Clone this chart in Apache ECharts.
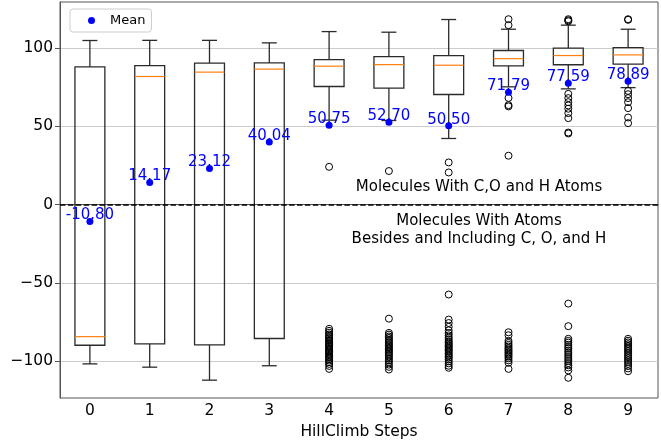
<!DOCTYPE html>
<html>
<head>
<meta charset="utf-8">
<title>Modified RON vs HillClimb Steps</title>
<script src="https://cdn.jsdelivr.net/npm/echarts@6/dist/echarts.min.js"></script>
<style>
  html, body { margin: 0; padding: 0; background: #fff; }
  #chart { width: 661px; height: 440px; }
</style>
</head>
<body>
<div id="chart"></div>
<script>
  // values
  var steps = ['0', '1', '2', '3', '4', '5', '6', '7', '8', '9'];
  var whiskerLow = [-101.7, -103.8, -112.1, -102.9, 54.0, 53.8, 42.3, 75.3, 74.0, 74.8];
  var q1 = [-89.8, -88.9, -89.5, -85.5, 75.5, 74.5, 70.4, 88.7, 89.4, 89.8];
  var median = [-84.3, 81.9, 84.7, 86.6, 88.5, 89.5, 89.1, 93.3, 95.3, 95.7];
  var q3 = [88.1, 88.9, 90.4, 90.6, 92.7, 94.6, 95.3, 98.5, 100.0, 100.4];
  var whiskerHigh = [104.9, 105.0, 105.0, 103.4, 110.6, 110.2, 118.3, 112.1, 114.7, 112.1];
  var means = [-10.80, 14.17, 23.12, 40.04, 50.75, 52.70, 50.50, 71.79, 77.59, 78.89];
  var outliers = [
    [], [], [], [],
    [24.2, -79.3, -80.6, -81.8, -82.9, -83.7, -84.6, -85.5, -86.4, -87.0, -87.9, -88.6, -89.4, -90.1, -90.8,
     -91.6, -92.3, -93.0, -93.8, -94.5, -95.3, -96.1, -97.0, -97.8, -98.7, -99.6, -100.6, -101.7, -103.0, -104.9],
    [21.5, -72.8, -81.9, -83.0, -84.2, -85.1, -86.3, -87.2, -88.0, -89.1, -89.9, -90.8, -91.7, -92.5, -93.4,
     -94.4, -95.2, -96.3, -97.4, -98.5, -99.6, -100.8, -102.2, -103.6, -105.3],
    [27.0, 20.6, -57.4, -73.4, -75.6, -78.0, -80.3, -82.1, -83.5, -84.9, -86.0, -87.2, -88.1, -89.0, -89.8,
     -90.7, -91.5, -92.4, -93.2, -94.1, -95.0, -95.9, -96.8, -97.8, -98.9, -100.1, -101.4, -102.9, -104.2],
    [118.5, 114.7, 68.2, 63.6, 62.8, 31.3, -81.5, -83.4, -87.0, -88.3, -89.5, -90.6, -91.6, -92.5, -93.4,
     -94.3, -95.2, -96.1, -97.1, -98.2, -99.5, -101.0, -104.9],
    [118.5, 117.8, 117.2, 70.8, 68.1, 65.5, 63.4, 61.3, 58.5, 55.3, 46.1, 45.5, -63.2, -77.6, -85.7, -87.0,
     -88.1, -89.5, -90.9, -92.0, -93.4, -94.6, -96.0, -97.3, -98.6, -99.8, -101.2, -102.6, -104.0, -105.9, -110.6],
    [118.5, 118.1, 72.7, 70.6, 68.1, 65.5, 61.7, 55.7, 52.1, -85.7, -86.9, -88.0, -89.1, -90.2, -91.3, -92.4,
     -93.5, -94.6, -95.8, -96.9, -98.0, -99.2, -100.4, -101.7, -103.1, -104.6, -106.4]
  ];
  var yTicks = [-100, -50, 0, 50, 100];

  var font = 'DejaVu Sans';

  var boxData = steps.map(function (s, i) {
    return [i, whiskerLow[i], q1[i], median[i], q3[i], whiskerHigh[i]];
  });
  var meanData = steps.map(function (s, i) { return [i, means[i]]; });
  var flierData = [];
  outliers.forEach(function (list, i) {
    list.forEach(function (v) { flierData.push([i, v]); });
  });

  function renderBox(params, api) {
    var x = api.value(0);
    var lo = api.coord([x, api.value(1)]);
    var b1 = api.coord([x, api.value(2)]);
    var md = api.coord([x, api.value(3)]);
    var b3 = api.coord([x, api.value(4)]);
    var hi = api.coord([x, api.value(5)]);
    var band = api.size([1, 0])[0];
    var half = band * 0.25;
    var cap = band * 0.125;
    var cx = lo[0];
    var line = { stroke: '#2b2b2b', lineWidth: 1.3 };
    return {
      type: 'group',
      children: [
        { type: 'line', shape: { x1: cx, y1: hi[1], x2: cx, y2: b3[1] }, style: line },
        { type: 'line', shape: { x1: cx, y1: b1[1], x2: cx, y2: lo[1] }, style: line },
        { type: 'line', shape: { x1: cx - cap, y1: hi[1], x2: cx + cap, y2: hi[1] }, style: line },
        { type: 'line', shape: { x1: cx - cap, y1: lo[1], x2: cx + cap, y2: lo[1] }, style: line },
        { type: 'rect', shape: { x: cx - half, y: b3[1], width: half * 2, height: b1[1] - b3[1] },
          style: { fill: 'none', stroke: '#2b2b2b', lineWidth: 1.3 } },
        { type: 'line', shape: { x1: cx - half, y1: md[1], x2: cx + half, y2: md[1] },
          style: { stroke: '#ff7f0e', lineWidth: 1.2 } }
      ]
    };
  }

  function minus(v) { return String(v).replace('-', '\u2212'); }

  var myChart = echarts.init(document.getElementById('chart'));
  myChart.setOption({
    animation: false,
    textStyle: { fontFamily: font },
    grid: { left: 60, right: 3, top: 2, bottom: 42, outerBoundsMode: 'none', containLabel: false,
      show: true, borderColor: '#555', borderWidth: 1 },
    legend: {
      data: ['Mean'],
      left: 70, top: 9,
      icon: 'circle',
      itemWidth: 7, itemHeight: 7,
      padding: [5, 6, 5, 18],
      borderColor: '#ccc', borderWidth: 1, borderRadius: 3,
      backgroundColor: 'rgba(255,255,255,0.8)',
      textStyle: { fontFamily: font, fontSize: 13, color: '#000', padding: [0, 0, 0, 10] }
    },
    xAxis: {
      type: 'category',
      data: steps,
      name: 'HillClimb Steps',
      nameLocation: 'middle',
      nameGap: 24,
      nameTextStyle: { fontFamily: font, fontSize: 15.5, color: '#000' },
      axisLine: { lineStyle: { color: '#555' } },
      axisTick: { alignWithLabel: true, length: 5, lineStyle: { color: '#555' } },
      axisLabel: { fontFamily: font, fontSize: 15.5, color: '#000', margin: 5 },
      splitLine: { show: false }
    },
    yAxis: {
      type: 'value',
      min: -123.5, max: 129.5,
      name: 'Modified RON',
      nameLocation: 'middle',
      nameGap: 44,
      nameTextStyle: { fontFamily: font, fontSize: 17.5, color: '#000' },
      axisLine: { show: true, lineStyle: { color: '#555' } },
      axisTick: { show: true, length: 5, customValues: yTicks, lineStyle: { color: '#555' } },
      axisLabel: { fontFamily: font, fontSize: 15.5, color: '#000', margin: 7, customValues: yTicks,
        formatter: minus },
      splitLine: { show: true, lineStyle: { color: '#cccccc', width: 1 } }
    },
    graphic: [
      { type: 'text', x: 479, y: 187, style: { text: 'Molecules With C,O and H Atoms', font: '15px "DejaVu Sans"',
        fill: '#000', align: 'center', verticalAlign: 'middle' } },
      { type: 'text', x: 479, y: 230, style: { text: 'Molecules With Atoms\nBesides and Including C, O, and H',
        font: '15px "DejaVu Sans"', fill: '#000', align: 'center', verticalAlign: 'middle', lineHeight: 18 } }
    ],
    series: [
      {
        name: 'box',
        type: 'custom',
        renderItem: renderBox,
        data: boxData,
        z: 2,
        silent: true
      },
      {
        name: 'fliers',
        type: 'scatter',
        data: flierData,
        symbol: 'circle',
        symbolSize: 7,
        itemStyle: { color: 'rgba(0,0,0,0)', borderColor: '#000', borderWidth: 1, opacity: 1 },
        z: 3,
        silent: true,
        markLine: {
          silent: true,
          symbol: ['none', 'none'],
          label: { show: false },
          lineStyle: { color: '#000', type: [5.5, 2.4], width: 1.5, opacity: 1 },
          data: [{ yAxis: 0 }]
        }
      },
      {
        name: 'Mean',
        type: 'scatter',
        data: meanData,
        symbol: 'circle',
        symbolSize: 7,
        itemStyle: { color: '#0000ff', opacity: 1 },
        z: 5,
        label: {
          show: true,
          position: 'top',
          distance: -5,
          color: '#0000ff',
          fontFamily: font,
          fontSize: 15,
          formatter: function (p) { return p.value[1].toFixed(2); }
        }
      }
    ]
  });
</script>
</body>
</html>
